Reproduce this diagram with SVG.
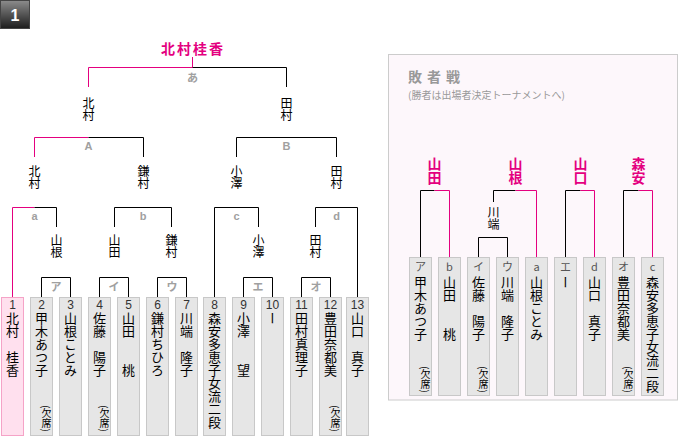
<svg xmlns="http://www.w3.org/2000/svg" width="680" height="440" viewBox="0 0 680 440">
<defs>
<linearGradient id="bg" x1="0" y1="0" x2="0" y2="1">
<stop offset="0" stop-color="#8c8c8c"/>
<stop offset="1" stop-color="#1c1c1c"/>
</linearGradient>
</defs>
<style>
.k{stroke:#000;stroke-width:1;fill:none}
.p{stroke:#e4007f;stroke-width:1;fill:none}
.lb{font-family:"Liberation Sans","Noto Sans CJK JP",sans-serif;font-weight:bold;font-size:11px;fill:#a0a0a0;text-anchor:middle}
.w{font-family:"Noto Sans CJK JP",sans-serif;font-size:12px;fill:#000;writing-mode:vertical-rl}
.wp{font-family:"Noto Sans CJK JP",sans-serif;font-size:14px;font-weight:bold;fill:#e4007f;writing-mode:vertical-rl}
.bx{fill:#e6e6e6;stroke:#c8c8c8;stroke-width:1}
.bxp{fill:#ffe0ee;stroke:#f5a3c7;stroke-width:1}
.num{font-family:"Liberation Sans",sans-serif;font-size:12px;fill:#333;text-anchor:middle}
.tag{font-family:"Noto Sans CJK JP",sans-serif;font-size:11px;fill:#555;text-anchor:middle}
.nm{font-family:"Noto Sans CJK JP",sans-serif;font-size:13px;fill:#000;writing-mode:vertical-rl}
.ab{font-family:"Noto Sans CJK JP",sans-serif;font-size:10px;fill:#000;writing-mode:vertical-rl}
</style>
<rect width="680" height="440" fill="#fff"/>
<g id="badge">
<rect x="0.5" y="0.5" width="29" height="28" fill="url(#bg)" stroke="#444"/>
<text x="15" y="21" font-family="Liberation Sans,sans-serif" font-weight="bold" font-size="16" fill="#fff" text-anchor="middle">1</text>
</g>
<g id="title">
<text x="193" y="54" font-family="Noto Sans CJK JP,sans-serif" font-weight="bold" font-size="14" letter-spacing="2" fill="#e4007f" text-anchor="middle">北村桂香</text>
</g>
<g id="loser-panel">
<rect x="388.5" y="54.5" width="289" height="345.5" fill="#fdf7fb" stroke="#ccc"/>
<text x="408" y="82" font-family="Noto Sans CJK JP,sans-serif" font-weight="bold" font-size="14" letter-spacing="5" fill="#999">敗者戦</text>
<text x="408" y="99" font-family="Noto Sans CJK JP,sans-serif" font-size="10" fill="#999">(勝者は出場者決定トーナメントへ)</text>
</g>
<g id="connectors">
<path class="p" d="M88.5,87 V67.5 H192.5 V57"/>
<path class="k" d="M192.5,67.5 H286.5 V87"/>
<path class="p" d="M34.5,157 V137.5 H88.5"/>
<path class="k" d="M88.5,137.5 H143.5 V157"/>
<path class="k" d="M236.5,157 V137.5 H336.5 V157"/>
<path class="p" d="M12.5,297 V207.5 H34.5"/>
<path class="k" d="M34.5,207.5 H56.5 V227"/>
<path class="k" d="M114.5,227 V207.5 H171.5 V227"/>
<path class="k" d="M214.5,297 V207.5 H258.5 V227"/>
<path class="k" d="M315.5,227 V207.5 H357.5 V297"/>
<path class="k" d="M41.5,297 V277.5 H70.5 V297"/>
<path class="k" d="M99.5,297 V277.5 H128.5 V297"/>
<path class="k" d="M157.5,297 V277.5 H186.5 V297"/>
<path class="k" d="M243.5,297 V277.5 H272.5 V297"/>
<path class="k" d="M301.5,297 V277.5 H330.5 V297"/>
<path class="k" d="M420.5,257 V190.5 H434.5"/>
<path class="p" d="M434.5,190.5 H449.5 V257"/>
<path class="k" d="M493.5,202 V190.5 H515.5"/>
<path class="p" d="M515.5,190.5 H536.5 V257"/>
<path class="k" d="M478.5,257 V237.5 H507.5 V257"/>
<path class="k" d="M565.5,257 V190.5 H580.5"/>
<path class="p" d="M580.5,190.5 H594.5 V257"/>
<path class="k" d="M623.5,257 V190.5 H638.5"/>
<path class="p" d="M638.5,190.5 H652.5 V257"/>
</g>
<g id="bracket-labels">
<text class="lb" x="192.5" y="81.5">あ</text>
<text class="lb" x="88.5" y="149.5">A</text>
<text class="lb" x="286.5" y="149.5">B</text>
<text class="lb" x="34.5" y="220">a</text>
<text class="lb" x="143" y="220">b</text>
<text class="lb" x="236.5" y="220">c</text>
<text class="lb" x="336.5" y="220">d</text>
<text class="lb" x="56" y="291">ア</text>
<text class="lb" x="114" y="291">イ</text>
<text class="lb" x="172" y="291">ウ</text>
<text class="lb" x="258" y="291">エ</text>
<text class="lb" x="316" y="291">オ</text>
</g>
<g id="winners">
<text class="w" x="88.5" y="97">北村</text>
<text class="w" x="286.5" y="97">田村</text>
<text class="w" x="34.5" y="165">北村</text>
<text class="w" x="143.5" y="165">鎌村</text>
<text class="w" x="236.5" y="165">小澤</text>
<text class="w" x="336.5" y="165">田村</text>
<text class="w" x="56.5" y="234">山根</text>
<text class="w" x="114.5" y="234">山田</text>
<text class="w" x="171.5" y="234">鎌村</text>
<text class="w" x="258.5" y="234">小澤</text>
<text class="w" x="315.5" y="234">田村</text>
<text class="wp" x="434.5" y="157">山田</text>
<text class="wp" x="515.5" y="157">山根</text>
<text class="wp" x="580.5" y="157">山口</text>
<text class="wp" x="638.5" y="157">森安</text>
<text class="w" x="493.5" y="206">川端</text>
</g>
<g id="p1"><rect class="bxp" x="1.5" y="297.5" width="22" height="138"/><text class="num" x="12.5" y="309">1</text><text class="nm" x="12.5" y="312">北村　桂香</text></g>
<g id="p2"><rect class="bx" x="30.5" y="297.5" width="22" height="138"/><text class="num" x="41.5" y="309">2</text><text class="nm" x="41.5" y="312">甲木あつ子</text><text class="ab" x="46.5" y="405">(欠席)</text></g>
<g id="p3"><rect class="bx" x="59.5" y="297.5" width="22" height="138"/><text class="num" x="70.5" y="309">3</text><text class="nm" x="70.5" y="312">山根ことみ</text></g>
<g id="p4"><rect class="bx" x="88.5" y="297.5" width="22" height="138"/><text class="num" x="99.5" y="309">4</text><text class="nm" x="99.5" y="312">佐藤　陽子</text><text class="ab" x="104.5" y="405">(欠席)</text></g>
<g id="p5"><rect class="bx" x="117.5" y="297.5" width="22" height="138"/><text class="num" x="128.5" y="309">5</text><text class="nm" x="128.5" y="312">山田　　桃</text></g>
<g id="p6"><rect class="bx" x="146.5" y="297.5" width="22" height="138"/><text class="num" x="157.5" y="309">6</text><text class="nm" x="157.5" y="312">鎌村ちひろ</text></g>
<g id="p7"><rect class="bx" x="175.5" y="297.5" width="22" height="138"/><text class="num" x="186.5" y="309">7</text><text class="nm" x="186.5" y="312">川端　隆子</text></g>
<g id="p8"><rect class="bx" x="203.5" y="297.5" width="22" height="138"/><text class="num" x="214.5" y="309">8</text><text class="nm" x="214.5" y="312">森安多恵子女流二段</text></g>
<g id="p9"><rect class="bx" x="232.5" y="297.5" width="22" height="138"/><text class="num" x="243.5" y="309">9</text><text class="nm" x="243.5" y="312">小澤　　望</text></g>
<g id="p10"><rect class="bx" x="261.5" y="297.5" width="22" height="138"/><text class="num" x="272.5" y="309">10</text><text class="nm" x="272.5" y="312">ー</text></g>
<g id="p11"><rect class="bx" x="290.5" y="297.5" width="22" height="138"/><text class="num" x="301.5" y="309">11</text><text class="nm" x="301.5" y="312">田村真理子</text></g>
<g id="p12"><rect class="bx" x="319.5" y="297.5" width="22" height="138"/><text class="num" x="330.5" y="309">12</text><text class="nm" x="330.5" y="312">豊田奈都美</text><text class="ab" x="335.5" y="405">(欠席)</text></g>
<g id="p13"><rect class="bx" x="346.5" y="297.5" width="22" height="138"/><text class="num" x="357.5" y="309">13</text><text class="nm" x="357.5" y="312">山口　真子</text></g>
<g id="r1"><rect class="bx" x="409.5" y="257.5" width="22" height="138"/><text class="tag" x="420.5" y="271">ア</text><text class="nm" x="420.5" y="276">甲木あつ子</text><text class="ab" x="425.5" y="366">(欠席)</text></g>
<g id="r2"><rect class="bx" x="438.5" y="257.5" width="22" height="138"/><text class="tag" x="449.5" y="271">b</text><text class="nm" x="449.5" y="276">山田　　桃</text></g>
<g id="r3"><rect class="bx" x="467.5" y="257.5" width="22" height="138"/><text class="tag" x="478.5" y="271">イ</text><text class="nm" x="478.5" y="276">佐藤　陽子</text><text class="ab" x="483.5" y="366">(欠席)</text></g>
<g id="r4"><rect class="bx" x="496.5" y="257.5" width="22" height="138"/><text class="tag" x="507.5" y="271">ウ</text><text class="nm" x="507.5" y="276">川端　隆子</text></g>
<g id="r5"><rect class="bx" x="525.5" y="257.5" width="22" height="138"/><text class="tag" x="536.5" y="271">a</text><text class="nm" x="536.5" y="276">山根ことみ</text></g>
<g id="r6"><rect class="bx" x="554.5" y="257.5" width="22" height="138"/><text class="tag" x="565.5" y="271">エ</text><text class="nm" x="565.5" y="276">ー</text></g>
<g id="r7"><rect class="bx" x="583.5" y="257.5" width="22" height="138"/><text class="tag" x="594.5" y="271">d</text><text class="nm" x="594.5" y="276">山口　真子</text></g>
<g id="r8"><rect class="bx" x="612.5" y="257.5" width="22" height="138"/><text class="tag" x="623.5" y="271">オ</text><text class="nm" x="623.5" y="276">豊田奈都美</text><text class="ab" x="628.5" y="366">(欠席)</text></g>
<g id="r9"><rect class="bx" x="641.5" y="257.5" width="22" height="138"/><text class="tag" x="652.5" y="271">c</text><text class="nm" x="652.5" y="276">森安多恵子女流二段</text></g>
</svg>
